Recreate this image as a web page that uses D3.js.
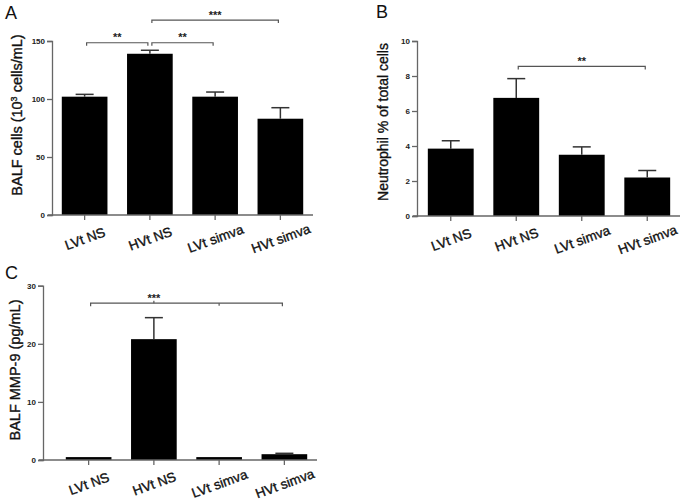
<!DOCTYPE html>
<html>
<head>
<meta charset="utf-8">
<script src="https://cdn.jsdelivr.net/npm/d3@7"></script>
<style>
  body { margin: 0; background: #fff; }
  svg { display: block; font-family: "Liberation Sans", Arial, sans-serif; }
</style>
</head>
<body>
<svg id="chart" width="685" height="504"></svg>
<script>
// data
var categories = ["LVt NS", "HVt NS", "LVt simva", "HVt simva"];

var cellsMean = [102, 139, 102, 83];
var cellsErr  = [2, 3, 4, 9.5];
var cellsTicks = [0, 50, 100, 150];

var neutMean = [3.85, 6.75, 3.5, 2.2];
var neutErr  = [0.45, 1.1, 0.45, 0.4];
var neutTicks = [0, 2, 4, 6, 8, 10];

var mmpMean = [0.5, 20.8, 0.5, 1.0];
var mmpErr  = [0, 3.7, 0, 0.15];
var mmpTicks = [0, 10, 20, 30];

// significance brackets: from bar i to bar j at value y
var cellsSig = [
  {from: 0, to: 1, y: 148.5, label: "**"},
  {from: 1, to: 2, y: 148.5, label: "**"},
  {from: 1, to: 3, y: 168, label: "***"}
];
var neutSig = [{from: 1, to: 3, y: 8.55, label: "**"}];
var mmpSig = [{from: 0, to: 3, y: 27, label: "***", mid: [1, 2]}];

var svg = d3.select("#chart");

function panel(opt) {
  var g = svg.append("g");
  var x = d3.scaleBand().domain(categories)
      .range(opt.band).paddingInner(0.3).paddingOuter(0.15);
  var y = d3.scaleLinear().domain([0, opt.max]).range([opt.bottom, opt.top]);
  var cx = function(i){ return x(categories[i]) + x.bandwidth() / 2; };

  // bars
  g.selectAll("rect.bar").data(opt.mean).enter().append("rect")
    .attr("class", "bar")
    .attr("x", function(d,i){ return x(categories[i]); })
    .attr("y", function(d){ return y(d); })
    .attr("width", x.bandwidth())
    .attr("height", function(d){ return y(0) - y(d); })
    .attr("fill", "#000");

  // error bars (upper only)
  opt.err.forEach(function(e, i){
    if (!e) return;
    g.append("line").attr("x1", cx(i)).attr("x2", cx(i))
      .attr("y1", y(opt.mean[i])).attr("y2", y(opt.mean[i] + e))
      .attr("stroke", "#333").attr("stroke-width", 1.5);
    g.append("line").attr("x1", cx(i) - 9).attr("x2", cx(i) + 9)
      .attr("y1", y(opt.mean[i] + e)).attr("y2", y(opt.mean[i] + e))
      .attr("stroke", "#333").attr("stroke-width", 1.5);
  });

  // y axis
  var ya = g.append("g").attr("transform", "translate(" + opt.axisX + ",0)")
    .call(d3.axisLeft(y).tickValues(opt.ticks).tickSize(5).tickPadding(2));
  ya.select(".domain").attr("stroke", "#666").attr("stroke-width", 1.3);
  ya.selectAll(".tick line").attr("stroke", "#666").attr("stroke-width", 1.3);
  ya.selectAll(".tick text").attr("font-size", 8).attr("font-weight", "bold")
    .attr("fill", "#222").attr("font-family", "Liberation Sans, Arial");

  // x axis
  var xa = g.append("g").attr("transform", "translate(0," + opt.bottom + ")")
    .call(d3.axisBottom(x).tickSize(5).tickSizeOuter(0).tickFormat(""));
  xa.select(".domain").attr("d", "M" + (opt.axisX - 4) + ",0H" + opt.band[1])
    .attr("stroke", "#666").attr("stroke-width", 1.3);
  xa.selectAll(".tick line").attr("stroke", "#666").attr("stroke-width", 1.3);

  g.selectAll("text.cat").data(categories).enter().append("text")
    .attr("class", "cat")
    .attr("transform", function(d,i){
      return "translate(" + (cx(i) + 2) + "," + (opt.bottom + 28) + ") rotate(-20)";
    })
    .attr("text-anchor", "middle")
    .attr("font-size", 13.5)
    .attr("fill", "#111").attr("stroke", "#111").attr("stroke-width", 0.35)
    .text(function(d){ return d; });

  // y title
  g.append("text")
    .attr("transform", "translate(" + opt.titleX + "," + opt.titleY + ") rotate(-90)")
    .attr("text-anchor", "middle")
    .attr("font-size", opt.titleSize)
    .attr("fill", "#111").attr("stroke", "#111").attr("stroke-width", 0.35)
    .html(opt.title);

  // significance brackets
  opt.sig.forEach(function(s){
    var x1 = cx(s.from) + 2, x2 = cx(s.to) - 2, yy = y(s.y);
    g.append("path")
      .attr("d", "M" + x1 + "," + (yy + 3) + "V" + yy + "H" + x2 + "V" + (yy + 3))
      .attr("fill", "none").attr("stroke", "#555").attr("stroke-width", 1.2);
    var sx = (x1 + x2) / 2;
    if (s.mid) {
      g.append("line").attr("x1", cx(s.mid[0])).attr("x2", cx(s.mid[0]))
        .attr("y1", yy).attr("y2", yy - 2.5).attr("stroke", "#555").attr("stroke-width", 1.2);
      g.append("line").attr("x1", cx(s.mid[1])).attr("x2", cx(s.mid[1]))
        .attr("y1", yy).attr("y2", yy + 2.5).attr("stroke", "#555").attr("stroke-width", 1.2);
      sx = cx(s.mid[0]);
    }
    g.append("text").attr("x", sx).attr("y", yy - 1.5)
      .attr("text-anchor", "middle").attr("font-size", 11).attr("font-weight", "bold")
      .attr("fill", "#222").text(s.label);
  });

  // panel letter
  g.append("text").attr("x", opt.letter[0]).attr("y", opt.letter[1])
    .attr("font-size", 18).attr("fill", "#111").text(opt.name);
}

panel({
  name: "A", letter: [5, 19],
  mean: cellsMean, err: cellsErr, ticks: cellsTicks, max: 150,
  axisX: 52, band: [52, 313], top: 41, bottom: 215,
  sig: cellsSig,
  title: "BALF cells (10<tspan baseline-shift='super' font-size='9'>3</tspan> cells/mL)",
  titleX: 22, titleY: 115, titleSize: 14.5
});

panel({
  name: "B", letter: [376, 18],
  mean: neutMean, err: neutErr, ticks: neutTicks, max: 10,
  axisX: 417, band: [418, 680], top: 41, bottom: 216,
  sig: neutSig,
  title: "Neutrophil % of total cells",
  titleX: 388, titleY: 122, titleSize: 14
});

panel({
  name: "C", letter: [5, 279],
  mean: mmpMean, err: mmpErr, ticks: mmpTicks, max: 30,
  axisX: 43, band: [56, 317], top: 285.7, bottom: 460,
  sig: mmpSig,
  title: "BALF MMP-9 (pg/mL)",
  titleX: 20, titleY: 370, titleSize: 14.5
});
</script>
</body>
</html>
